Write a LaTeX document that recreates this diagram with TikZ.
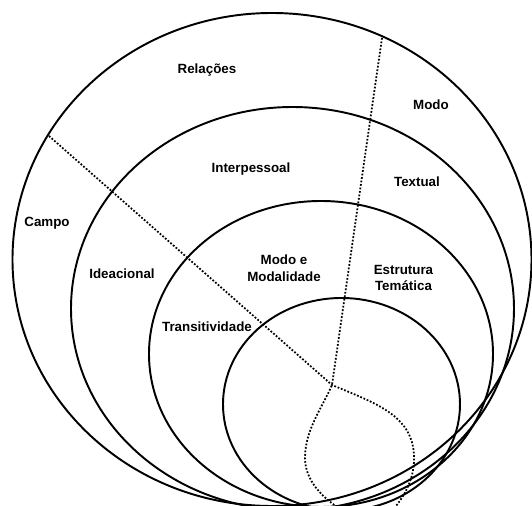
\documentclass[tikz,border=0pt]{standalone}
\usepackage{fontspec}
\setmainfont{Liberation Sans}
\usepackage{tikz}

\begin{document}
\begin{tikzpicture}[
    x=0.02cm, y=-0.02cm,
    ring/.style={draw, line width=1.1pt},
    dotline/.style={draw, line width=1pt, dash pattern=on 1pt off 1pt},
    lbl/.style={font=\fontsize{7.6}{9.6}\selectfont\bfseries, align=center, inner sep=0pt}
]
\useasboundingbox (0,0) rectangle (532,506);
\clip (0,0) rectangle (532,506);

% Circles
\draw[ring] (272,259.5) ellipse [x radius=259.5, y radius=246.5];
\draw[ring] (292.5,308.6) ellipse [x radius=221.5, y radius=201.6];
\draw[ring] (321,354) ellipse [x radius=172, y radius=153];
\draw[ring] (341.5,404.3) ellipse [x radius=118.5, y radius=106.3];

% Points of the dotted lines
\coordinate (lstart) at (49,136);
\coordinate (tstart) at (382,38);
\coordinate (cross) at (332,385);
\coordinate (rend) at (396,506);
\coordinate (lend) at (342,510);

% Dotted lines
\draw[dotline] (lstart) -- (cross) .. controls (375,403) and (412,415) .. (414,455)
    .. controls (415,475) and (407,492) .. (rend);
\draw[dotline] (tstart) -- (cross) .. controls (322,408) and (305,430) .. (305,458)
    .. controls (305,480) and (322,498) .. (lend);

% Labels
\node[lbl] (relacoes) at (207,70) {Relações};
\node[lbl] (modo) at (431,105) {Modo};
\node[lbl] (interpessoal) at (251,169) {Interpessoal};
\node[lbl] (textual) at (417,182) {Textual};
\node[lbl] (campo) at (47,223) {Campo};
\node[lbl] (ideacional) at (122,274) {Ideacional};
\node[lbl] (modalidade) at (284,268.5) {Modo e\\Modalidade};
\node[lbl] (estrutura) at (403.5,278) {Estrutura\\Temática};
\node[lbl] (transitividade) at (207,327) {Transitividade};

\end{tikzpicture}
\end{document}
